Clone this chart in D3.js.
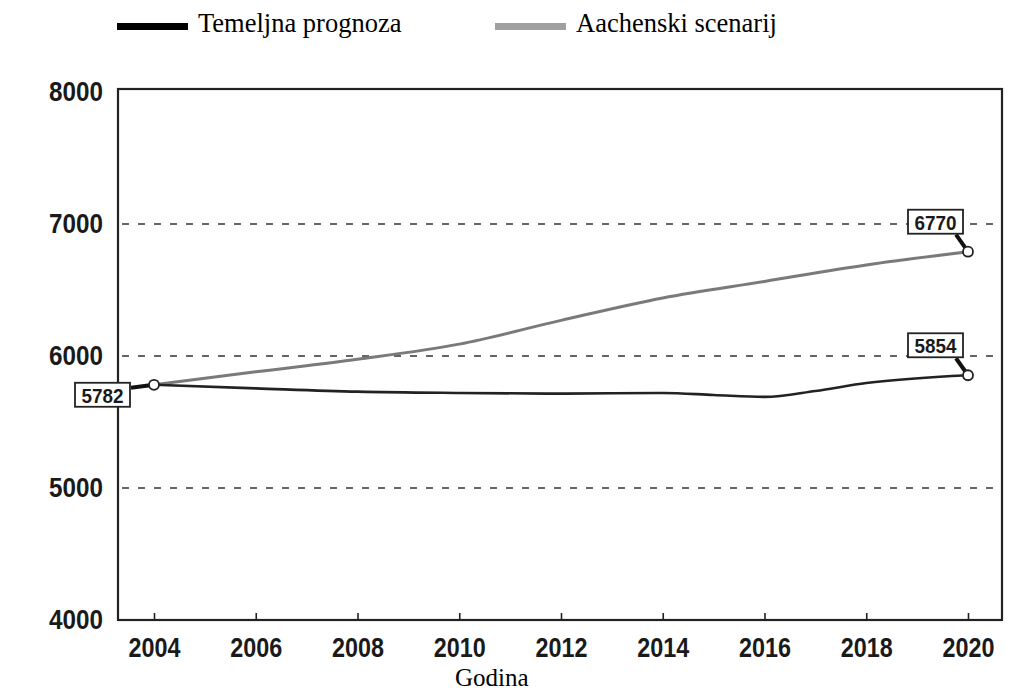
<!DOCTYPE html>
<html><head><meta charset="utf-8">
<script src="https://cdn.jsdelivr.net/npm/d3@7"></script>
<style>body{margin:0;background:#fff}</style>
</head><body>
<svg id="c" width="1011" height="695"></svg>
<script>
const years = [2004, 2006, 2008, 2010, 2012, 2014, 2015, 2016, 2017, 2018, 2020];
const baseline = [5782, 5755, 5730, 5720, 5715, 5720, 5705, 5690, 5735, 5795, 5854];
const aachenYears = [2004, 2006, 2008, 2010, 2012, 2014, 2016, 2018, 2020];
const aachen = [5782, 5880, 5975, 6090, 6270, 6440, 6565, 6690, 6790];
const seriesNames = ["Temeljna prognoza", "Aachenski scenarij"];
const xTicks = [2004, 2006, 2008, 2010, 2012, 2014, 2016, 2018, 2020];
const yTicks = [4000, 5000, 6000, 7000, 8000];
const labels = [
  {series: 0, year: 2004, value: 5782, text: "5782"},
  {series: 1, year: 2020, value: 6790, text: "6770"},
  {series: 0, year: 2020, value: 5854, text: "5854"}
];

const svg = d3.select("#c");
const x = d3.scaleLinear().domain([2004, 2020]).range([154, 968]);
const y = d3.scaleLinear().domain([4000, 8000]).range([620, 92]);
const L = 118, R = 1002, T = 89, B = 620;
const numFont = "'Liberation Sans',Arial,sans-serif";
const serif = "'Liberation Serif','Times New Roman',serif";

// gridlines
svg.append("g").selectAll("line").data([5000, 6000, 7000]).join("line")
  .attr("x1", L + 4).attr("x2", R - 2)
  .attr("y1", d => y(d)).attr("y2", d => y(d))
  .attr("stroke", "#333").attr("stroke-width", 1.5).attr("stroke-dasharray", "7,9");

// frame
svg.append("rect").attr("x", L).attr("y", T).attr("width", R - L).attr("height", B - T)
  .attr("fill", "none").attr("stroke", "#222").attr("stroke-width", 2.2);

// x axis
const xAxis = d3.axisBottom(x).tickValues(xTicks).tickFormat(d3.format("d")).tickSize(-7).tickPadding(18);
const gx = svg.append("g").attr("transform", `translate(0,${B})`).call(xAxis);
gx.select(".domain").remove();
gx.selectAll(".tick line").attr("stroke", "#222").attr("stroke-width", 1.6);
gx.selectAll("text").attr("font-family", numFont).attr("font-weight", "bold")
  .attr("font-size", 27).attr("fill", "#1a1a1a").attr("dy", "0.71em")
  .attr("textLength", 52).attr("lengthAdjust", "spacingAndGlyphs");

// y axis
const yAxis = d3.axisLeft(y).tickValues(yTicks).tickFormat(d3.format("d")).tickSize(0).tickPadding(15);
const gy = svg.append("g").attr("transform", `translate(${L},0)`).call(yAxis);
gy.select(".domain").remove();
gy.selectAll("text").attr("font-family", numFont).attr("font-weight", "bold")
  .attr("font-size", 27).attr("fill", "#1a1a1a")
  .attr("textLength", 54).attr("lengthAdjust", "spacingAndGlyphs");

// lines
const line = d3.line().x(d => x(d[0])).y(d => y(d[1])).curve(d3.curveMonotoneX);
svg.append("path").datum(aachenYears.map((d, i) => [d, aachen[i]]))
  .attr("d", line).attr("fill", "none").attr("stroke", "#7a7a7a").attr("stroke-width", 3);
svg.append("path").datum(years.map((d, i) => [d, baseline[i]]))
  .attr("d", line).attr("fill", "none").attr("stroke", "#222").attr("stroke-width", 2.6);

// labels
labels.forEach(l => {
  const cx = x(l.year), cy = y(l.value);
  let bx, by, lx, ly;
  if (l.year === 2004) { bx = cx - 79; by = cy - 2; lx = bx + 56; ly = by + 5; }
  else { bx = cx - 60; by = cy - 42; lx = bx + 48; ly = by + 25; }
  svg.append("line").attr("x1", lx).attr("y1", ly).attr("x2", cx).attr("y2", cy)
    .attr("stroke", "#111").attr("stroke-width", 4);
  svg.append("rect").attr("x", bx).attr("y", by).attr("width", 55).attr("height", 24)
    .attr("fill", "#fff").attr("stroke", "#222").attr("stroke-width", 1.8);
  svg.append("text").attr("x", bx + 27.5).attr("y", by + 20).attr("text-anchor", "middle")
    .attr("font-family", numFont).attr("font-weight", "bold").attr("font-size", 21)
    .attr("textLength", 42).attr("lengthAdjust", "spacingAndGlyphs")
    .attr("fill", "#1a1a1a").text(l.text);
  svg.append("circle").attr("cx", cx).attr("cy", cy).attr("r", 5)
    .attr("fill", "#fff").attr("stroke", "#222").attr("stroke-width", 1.8);
});

// legend
const legend = [{name: seriesNames[0], color: "#000", x: 117}, {name: seriesNames[1], color: "#a0a0a0", x: 495}];
const lg = svg.append("g").selectAll("g").data(legend).join("g");
lg.append("rect").attr("x", d => d.x).attr("y", 23).attr("width", 71).attr("height", 7).attr("fill", d => d.color);
lg.append("text").attr("x", d => d.x + 81).attr("y", 32).attr("font-family", serif)
  .attr("font-size", 26.5).attr("fill", "#000").text(d => d.name);

// x title
svg.append("text").attr("x", 455).attr("y", 686)
  .attr("font-family", serif).attr("font-size", 25).attr("fill", "#000").text("Godina");
</script>
</body></html>
